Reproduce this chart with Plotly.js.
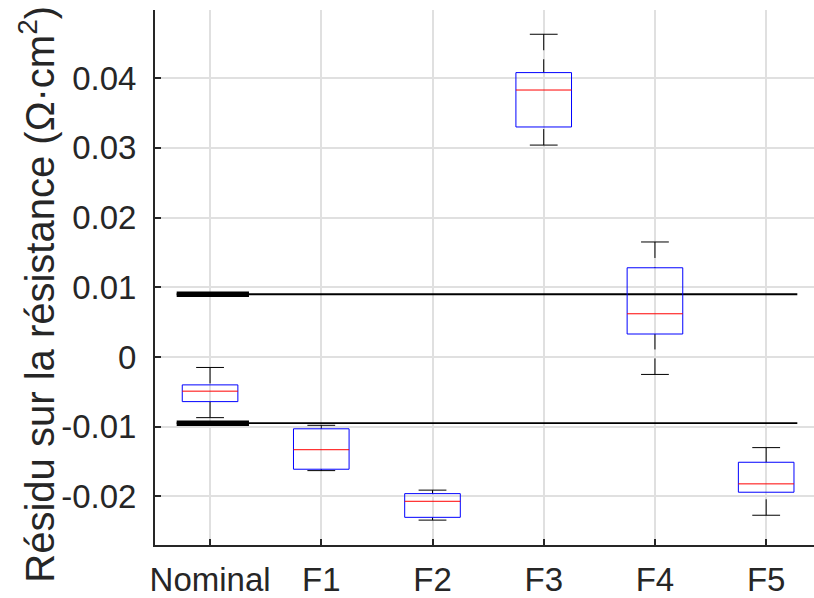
<!DOCTYPE html>
<html>
<head>
<meta charset="utf-8">
<script src="https://cdn.plot.ly/plotly-3.0.1.min.js"></script>
<style>html,body{margin:0;padding:0;background:#fff;}#chart{width:814px;height:598px;}</style>
</head>
<body>
<div id="chart"></div>
<script>
// ---- data ----
const categories   = ['Nominal', 'F1', 'F2', 'F3', 'F4', 'F5'];
const upperWhisker = [-0.0015, -0.0098, -0.0191, 0.0463, 0.0165, -0.0130];
const q3           = [-0.0040, -0.0103, -0.0196, 0.0408, 0.0128, -0.0151];
const medians      = [-0.0049, -0.0133, -0.0207, 0.0383, 0.0062, -0.0182];
const q1           = [-0.0064, -0.0161, -0.0230, 0.0330, 0.0033, -0.0194];
const lowerWhisker = [-0.0087, -0.0163, -0.0234, 0.0304, -0.0025, -0.0227];
const thresholds   = [0.0090, -0.0095];
const thinLineX    = [0.70, 6.28];
const thickLineX   = [0.70, 1.35];
const yTickVals    = [-0.02, -0.01, 0, 0.01, 0.02, 0.03, 0.04];
const yTickText    = ['-0.02', '-0.01', '0', '0.01', '0.02', '0.03', '0.04'];
const yTitle       = 'Résidu sur la résistance (Ω·cm<sup>2</sup>)';

// ---- build traces ----
const pos = categories.map((c, i) => i + 1);
const boxHalf = 0.25, capHalf = 0.125;
const traces = [];

thresholds.forEach(t => {
  traces.push({x: thinLineX, y: [t, t], mode: 'lines', line: {color: '#000', width: 1.8}, hoverinfo: 'skip', showlegend: false});
  traces.push({x: thickLineX, y: [t, t], mode: 'lines', line: {color: '#000', width: 5.5}, hoverinfo: 'skip', showlegend: false});
});

const wx = [], wy = [], cx = [], cy = [], bx = [], by = [], mx = [], my = [];
pos.forEach((p, i) => {
  wx.push(p, p, null, p, p, null);
  wy.push(upperWhisker[i], q3[i], null, lowerWhisker[i], q1[i], null);
  cx.push(p - capHalf, p + capHalf, null, p - capHalf, p + capHalf, null);
  cy.push(upperWhisker[i], upperWhisker[i], null, lowerWhisker[i], lowerWhisker[i], null);
  bx.push(p - boxHalf, p + boxHalf, p + boxHalf, p - boxHalf, p - boxHalf, null);
  by.push(q1[i], q1[i], q3[i], q3[i], q1[i], null);
  mx.push(p - boxHalf, p + boxHalf, null);
  my.push(medians[i], medians[i], null);
});
traces.push({x: wx, y: wy, mode: 'lines', line: {color: '#000', width: 1, dash: '16px,9px'}, hoverinfo: 'skip', showlegend: false});
traces.push({x: cx, y: cy, mode: 'lines', line: {color: '#000', width: 1}, hoverinfo: 'skip', showlegend: false});
traces.push({x: bx, y: by, mode: 'lines', line: {color: '#0000ff', width: 1}, hoverinfo: 'skip', showlegend: false});
traces.push({x: mx, y: my, mode: 'lines', line: {color: '#ff0000', width: 1}, hoverinfo: 'skip', showlegend: false});

const tickFont  = {family: 'Liberation Sans, Arial, sans-serif', size: 33, color: '#262626'};
const titleFont = {family: 'Liberation Sans, Arial, sans-serif', size: 40, color: '#262626'};

const layout = {
  width: 814, height: 598,
  margin: {l: 155, r: 0, t: 10, b: 53, pad: 0},
  paper_bgcolor: '#fff', plot_bgcolor: '#fff',
  font: tickFont,
  showlegend: false,
  xaxis: {
    range: [0.505, 6.43],
    tickmode: 'array', tickvals: pos, ticktext: categories,
    showgrid: true, gridcolor: '#e0e0e0', gridwidth: 2,
    zeroline: false,
    showline: true, linecolor: '#262626', linewidth: 2, mirror: false,
    ticks: 'inside', ticklen: 6, tickwidth: 2, tickcolor: '#262626',
    tickfont: tickFont, ticklabelstandoff: 4
  },
  yaxis: {
    range: [-0.02697, 0.04978],
    tickmode: 'array', tickvals: yTickVals, ticktext: yTickText,
    showgrid: true, gridcolor: '#e0e0e0', gridwidth: 2,
    zeroline: false,
    showline: true, linecolor: '#262626', linewidth: 2, mirror: false,
    ticks: 'inside', ticklen: 6, tickwidth: 2, tickcolor: '#262626',
    tickfont: tickFont, ticklabelstandoff: 10
  },
  annotations: [{
    text: yTitle, font: titleFont, textangle: -90,
    xref: 'paper', yref: 'paper', x: -0.179, y: 0.468,
    xanchor: 'center', yanchor: 'middle', showarrow: false
  }]
};

Plotly.newPlot('chart', traces, layout, {staticPlot: true, displayModeBar: false});
</script>
</body>
</html>
